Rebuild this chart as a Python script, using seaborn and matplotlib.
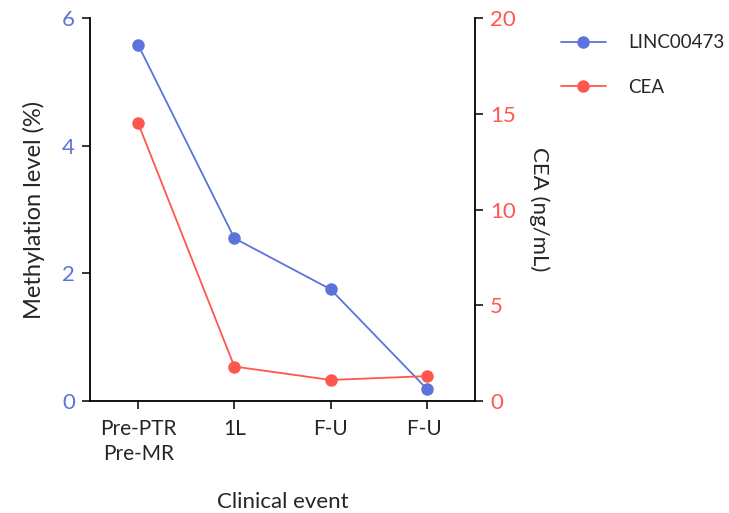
import matplotlib
matplotlib.use("Agg")
import matplotlib.pyplot as plt
import seaborn as sns
import pandas as pd
from matplotlib.lines import Line2D

categories = ["Pre-PTR\nPre-MR", "1L", "F-U", "F-U "]
linc_values = [5.58, 2.55, 1.75, 0.19]
cea_values = [14.5, 1.8, 1.1, 1.3]
left_ticks = [0, 2, 4, 6]
right_ticks = [0, 5, 10, 15, 20]

blue = "#5B73DB"
red = "#FF5750"

sns.set_style("ticks")
plt.rcParams['font.family'] = ['Lato', 'DejaVu Sans']

fig = plt.figure(figsize=(7.29, 5.13), dpi=100)
ax = fig.add_axes([0.1235, 0.2183, 0.528, 0.7466])
ax2 = ax.twinx()

x = list(range(len(categories)))
df = pd.DataFrame({"x": x, "linc": linc_values, "cea": cea_values})

sns.lineplot(data=df, x="x", y="linc", ax=ax, color=blue, marker="o",
             markersize=9, markeredgewidth=0, linewidth=1.3)
sns.lineplot(data=df, x="x", y="cea", ax=ax2, color=red, marker="o",
             markersize=9, markeredgewidth=0, linewidth=1.3)

ax.set_xlim(-0.5, 3.5)
ax.set_ylim(0, 6)
ax2.set_ylim(0, 20)
ax.set_xticks(x)
ax.set_xticklabels(categories, fontsize=15, linespacing=1.3)
ax.set_yticks(left_ticks)
ax2.set_yticks(right_ticks)
ax.tick_params(axis='y', labelcolor=blue, labelsize=16, length=6, width=1.3, direction='out', pad=5)
ax.tick_params(axis='x', labelsize=15, length=6, width=1.3, direction='out', pad=7)
ax2.tick_params(axis='y', labelcolor=red, labelsize=16, length=6, width=1.3, direction='out', pad=5)

ax.set_xlabel("Clinical event", fontsize=16, labelpad=20)
ax.set_ylabel("Methylation level (%)", fontsize=17, labelpad=12)
ax2.set_ylabel("CEA (ng/mL)", fontsize=16, rotation=270, labelpad=24)

for a in (ax, ax2):
    a.spines['top'].set_visible(False)
    for s in ('left', 'right', 'bottom'):
        a.spines[s].set_linewidth(1.3)
        a.spines[s].set_color('black')
ax.spines['right'].set_visible(False)
ax2.spines['left'].set_visible(False)
ax2.spines['bottom'].set_visible(False)

handles = [Line2D([], [], color=blue, marker='o', markersize=9, markeredgewidth=0, linewidth=1.3),
           Line2D([], [], color=red, marker='o', markersize=9, markeredgewidth=0, linewidth=1.3)]
fig.legend(handles, ["LINC00473", "CEA"], loc='upper left', bbox_to_anchor=(0.747, 0.966),
           frameon=False, fontsize=13.5, labelspacing=1.45, handlelength=2.35, handletextpad=1.2)

fig.savefig("out.png", dpi=100)
